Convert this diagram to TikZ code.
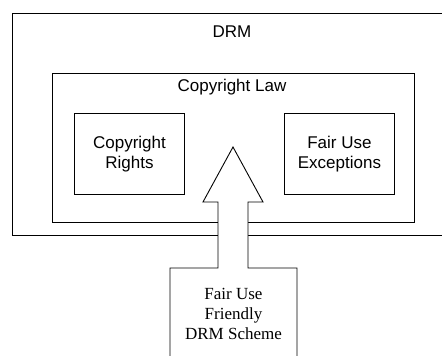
\documentclass[tikz,border=0pt]{standalone}
\usepackage{fontspec}
\setmainfont{Liberation Serif}
\setsansfont{Liberation Sans}
\usetikzlibrary{positioning}

\begin{document}
\begin{tikzpicture}[x=1pt, y=-1pt, line width=0.9pt,
    every node/.style={font=\sffamily\fontsize{17}{20}\selectfont},
    box/.style={draw, anchor=north west, inner sep=0pt, align=center}]
  \clip (0,0) rectangle (442,356);
  \fill[white] (0,0) rectangle (442,356);
  % nested boxes
  \node[box, minimum width=470pt, minimum height=222pt] (drm) at (12,13) {};
  \node[anchor=base] (drmlabel) at (232,37) {DRM};
  \node[box, minimum width=362pt, minimum height=149pt] (law) at (52,73) {};
  \node[anchor=base] (lawlabel) at (232,91) {Copyright Law};
  \node[box, minimum width=110pt, minimum height=81pt] (rights) at (74,113) {Copyright\\Rights};
  \node[box, minimum width=110pt, minimum height=81pt] (fairuse) at (284,113) {Fair Use\\Exceptions};
  % scheme box with its arrow pushing up into the law box
  \draw[fill=white] (170,370) -- (170,268) -- (218,268) -- (218,202) -- (203,202) -- (233,147)
      -- (263,202) -- (248,202) -- (248,268) -- (297,268) -- (297,370);
  \node[font=\rmfamily\fontsize{17}{20}\selectfont, align=center] (scheme) at (233.5,314) {Fair Use\\Friendly\\DRM Scheme};
\end{tikzpicture}
\end{document}
